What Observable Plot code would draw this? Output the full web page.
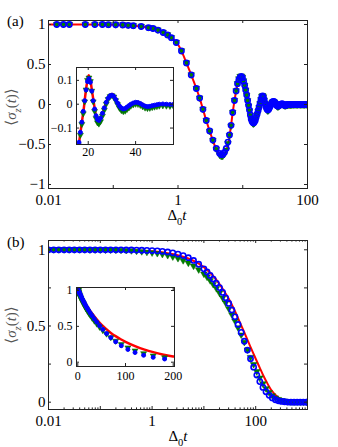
<!DOCTYPE html>
<html><head><meta charset="utf-8">
<script src="https://cdn.jsdelivr.net/npm/d3@7"></script>
<script src="https://cdn.jsdelivr.net/npm/@observablehq/plot@0.6"></script>
<style>
body{margin:0;background:#fff;}
#wrap{position:relative;width:338px;height:447px;overflow:hidden;background:#fff;}
#wrap svg{position:absolute;overflow:visible;}
</style></head><body><div id="wrap"></div>
<script>
// ---------- Panel (a) data ----------
const aLineT = [0.01,0.03,0.1,0.2,0.3,0.4,0.5,0.6,0.7,0.8,
  0.9,1.0,1.13,1.35,1.6,1.92,2.16,2.43,2.73,3.08,
  3.46,3.9,4.39,4.7,5.0,5.5,6.0,6.5,7.0,7.5,
  8.0,8.5,9.0,9.5,10,10.5,11,11.5,12,12.5,
  13,13.5,14,14.7,15.3,16,16.7,17.4,18.1,18.8,
  19.5,20.2,20.9,21.6,22.3,23,23.7,24.4,25.5,26.5,
  28,29,30.1,31,32.2,33.5,35,36.5,38,40.7,
  42.5,44.9,47,49,52,56,60,70,80,100];
const aRedV = [1,1,0.997,0.985,0.97,0.95,0.93,0.9,0.87,0.835,
  0.795,0.75,0.67,0.52,0.37,0.2,0.08,-0.06,-0.2,-0.33,
  -0.45,-0.56,-0.63,-0.65,-0.645,-0.59,-0.48,-0.3,-0.1,0.06,
  0.19,0.29,0.35,0.36,0.33,0.27,0.2,0.12,0.03,-0.06,
  -0.14,-0.2,-0.23,-0.235,-0.215,-0.17,-0.12,-0.07,-0.02,0.04,
  0.09,0.122,0.1,0.055,0.01,-0.035,-0.062,-0.072,-0.058,-0.028,
  0.02,0.037,0.043,0.035,0.01,-0.01,-0.021,-0.014,-0.002,0.009,
  0.003,-0.01,-0.008,-0.004,-0.002,0,0.001,0,0,0];
const aMarkT = [0.0134,0.017,0.021,0.037,0.052,0.068,0.084,0.109,0.14,0.17,
  0.204,0.27,0.35,0.41,0.49,0.59,0.69,0.79,0.94,1.13,
  1.35,1.6,1.92,2.16,2.43,2.73,3.08,3.46,3.9,4.39,
  4.65,4.9,5.2,5.56,5.9,6.24,6.6,7.0,7.45,7.9,
  8.3,8.7,9.1,9.5,9.9,10.3,10.7,11.1,11.5,11.9,
  12.3,12.7,13.1,13.5,13.9,14.3,14.7,15.1,15.6,16.1,
  16.7,17.3,17.9,18.5,19.1,19.7,20.3,20.9,21.5,22.1,
  22.7,23.3,23.9,24.5,25.2,26,26.8,27.6,28.4,29.2,
  30,30.8,31.6,32.4,33.2,34,34.8,35.6,36.4,37.2,
  38,39,40,41,42,43,44,45,46,47,
  48,49,50,51.5,53,54.5,56,58,61,64,
  67,70,74,78,82,86,90,95,100];
const aBlueV = [1,1,1,1,1,1,0.998,0.997,0.995,0.99,
  0.985,0.975,0.96,0.95,0.93,0.9,0.87,0.835,0.775,0.67,
  0.52,0.37,0.2,0.08,-0.06,-0.2,-0.33,-0.445,-0.55,-0.61,
  -0.625,-0.625,-0.6,-0.55,-0.47,-0.38,-0.26,-0.1,0.05,0.17,
  0.26,0.31,0.34,0.35,0.335,0.29,0.24,0.18,0.12,0.05,
  -0.01,-0.07,-0.13,-0.18,-0.21,-0.225,-0.23,-0.22,-0.2,-0.16,
  -0.118,-0.075,-0.03,0.015,0.06,0.095,0.107,0.092,0.055,0.015,
  -0.02,-0.048,-0.064,-0.068,-0.058,-0.038,-0.015,0.008,0.025,0.035,
  0.038,0.033,0.02,0.005,-0.008,-0.016,-0.02,-0.018,-0.012,-0.006,
  0,0.005,0.008,0.007,0.003,-0.003,-0.008,-0.01,-0.009,-0.006,
  -0.004,-0.002,0,0.001,0,-0.001,-0.001,0,0,0,
  0,0,0,0,0,0,0,0,0];
const aGreenV = [1,1,1,1,1,1,0.998,0.997,0.995,0.99,
  0.985,0.975,0.96,0.95,0.93,0.9,0.87,0.835,0.775,0.67,
  0.52,0.37,0.2,0.08,-0.06,-0.2,-0.335,-0.45,-0.56,-0.635,
  -0.65,-0.65,-0.625,-0.57,-0.49,-0.39,-0.27,-0.1,0.05,0.17,
  0.26,0.32,0.35,0.355,0.34,0.295,0.24,0.18,0.115,0.045,
  -0.02,-0.08,-0.14,-0.19,-0.225,-0.24,-0.245,-0.235,-0.215,-0.175,
  -0.13,-0.085,-0.04,0.01,0.06,0.1,0.11,0.095,0.055,0.01,
  -0.03,-0.06,-0.078,-0.083,-0.073,-0.05,-0.025,0,0.02,0.032,
  0.036,0.03,0.015,-0.002,-0.017,-0.027,-0.031,-0.029,-0.022,-0.015,
  -0.008,-0.003,0,-0.001,-0.005,-0.011,-0.016,-0.018,-0.017,-0.014,
  -0.012,-0.01,-0.008,-0.007,-0.008,-0.009,-0.009,-0.008,-0.008,-0.008,
  -0.008,-0.008,-0.008,-0.008,-0.008,-0.008,-0.008,-0.008,-0.008];

// ---------- Panel (b) data ----------
const bLineT = [0.01,0.1,0.5,1,2,3,5,7,10,15,
  20,25,30,40,50,60,70,80,90,100,
  120,140,160,180,200,250,300,400,600,1000];
const bRedV = [1,0.999,0.996,0.99,0.978,0.966,0.943,0.92,0.885,0.83,
  0.775,0.725,0.68,0.595,0.52,0.46,0.405,0.36,0.32,0.285,
  0.225,0.175,0.137,0.105,0.08,0.042,0.022,0.006,0.001,0];
const bMarkT = [0.01,0.0126,0.0158,0.02,0.0251,0.0316,0.0398,0.0501,0.0631,0.0794,
  0.1,0.126,0.158,0.2,0.251,0.316,0.398,0.501,0.631,0.794,
  1,1.26,1.58,2,2.51,3.16,3.98,5.01,6.31,7.94,
  10,11.5,13.2,15.1,17.4,20,23,26.3,30.2,34.7,
  39.8,45.7,52.5,60.3,69.2,79.4,91.2,105,120,138,
  158,182,209,240,275,316,363,417,479,550,
  631,724,832,955,1000];
const bBlueV = [1,1,1,1,1,1,1,1,1,1,
  1,1,1,1,1,0.999,0.999,0.998,0.997,0.996,
  0.995,0.993,0.99,0.986,0.98,0.972,0.962,0.948,0.93,0.905,
  0.875,0.855,0.832,0.808,0.78,0.752,0.72,0.685,0.648,0.605,
  0.56,0.51,0.458,0.4,0.342,0.285,0.23,0.178,0.135,0.097,
  0.068,0.045,0.028,0.016,0.009,0.005,0.003,0.001,0,0,
  0,0,0,0,0];
const bGreenV = [1,1,1,1,1,1,1,1,0.999,0.999,
  0.999,0.998,0.998,0.997,0.996,0.995,0.993,0.99,0.987,0.983,
  0.979,0.975,0.969,0.962,0.953,0.942,0.928,0.912,0.892,0.868,
  0.84,0.82,0.797,0.772,0.745,0.715,0.683,0.65,0.613,0.573,
  0.532,0.487,0.44,0.392,0.342,0.293,0.246,0.2,0.158,0.12,
  0.088,0.062,0.042,0.027,0.017,0.01,0.006,0.003,0.001,0,
  0,0,0,0,0];

// ---------- Tick values / labels ----------
const aXTicks = [0.01,0.1,1,10,100];
const aXLabels = ["0.01","1","100"];
const aXLabelVals = [0.01,1,100];
const aYTicks = [-1,-0.5,0,0.5,1];
const aYLabels = ["\u22121","\u22120.5","0","0.5","1"];
const aInXTicks = [20,40];
const aInXLabels = ["20","40"];
const aInYTicks = [-0.1,0,0.1];
const aInYLabels = ["\u22120.1","0","0.1"];

const bXTicks = [0.01,0.1,1,10,100,1000];
const bXMinor = [0.02,0.03,0.04,0.05,0.06,0.07,0.08,0.09,0.2,0.3,0.4,0.5,0.6,0.7,0.8,0.9,
  2,3,4,5,6,7,8,9,20,30,40,50,60,70,80,90,200,300,400,500,600,700,800,900];
const bXLabels = ["0.01","1","100"];
const bXLabelVals = [0.01,1,100];
const bYTicks = [0,0.25,0.5,0.75,1];
const bYLabelVals = [0,0.5,1];
const bYLabels = ["0","0.5","1"];
const bInXTicks = [0,100,200];
const bInXLabels = ["0","100","200"];
const bInYTicks = [0,0.5,1];
const bInYLabels = ["0","0.5","1"];

// ---------- drawing ----------
const FONT = '"Liberation Serif","Times New Roman","DejaVu Serif",serif';
const RED = "#ff0000", GREEN = "#008000", BLUE = "#0000ff", AX = "#222";
const triDown = {
  draw(ctx, size) {
    const r = Math.sqrt(size / Math.PI);
    ctx.moveTo(0, r * 1.05);
    ctx.lineTo(-r * 1.0, -r * 0.65);
    ctx.lineTo(r * 1.0, -r * 0.65);
    ctx.closePath();
  }
};

function panel(c) {
  const innerW = c.width - c.ml - c.mr;
  const innerH = c.height - c.mt - c.mb;
  const [x0, x1] = c.xDomain, [y0, y1] = c.yDomain;
  const lineData = c.lineT.map((t, i) => ({t, v: c.lineV[i]}));
  const markData = c.markT.map((t, i) => ({t, b: c.blueV[i], g: c.greenV[i]}))
    .filter(d => d.t >= x0 && d.t <= x1);
  const marks = [];
  if (c.inset) marks.push(Plot.frame({fill: "white", stroke: "none"}));
  marks.push(Plot.line(lineData, {x: "t", y: "v", stroke: RED, strokeWidth: c.lineW, curve: "catmull-rom", clip: true}));
  marks.push(Plot.dot(markData.filter(d => d.g >= y0 - 0.03 && d.g <= y1 + 0.03),
    {x: "t", y: "g", symbol: triDown, r: c.gR, fill: GREEN, stroke: "#006400", strokeWidth: 0.5, clip: true}));
  marks.push(Plot.dot(markData.filter(d => d.b >= y0 - 0.03 && d.b <= y1 + 0.03),
    {x: "t", y: "b", r: c.bR, fill: c.bFill, stroke: BLUE, strokeWidth: c.bSW, clip: true}));
  const tl = c.tl, ml2 = c.tlMinor;
  marks.push(Plot.tickX(c.xTicks, {x: d => d, insetTop: innerH - tl, stroke: AX}));
  marks.push(Plot.tickX(c.xTicks, {x: d => d, insetBottom: innerH - tl, stroke: AX}));
  if (c.xMinor) {
    marks.push(Plot.tickX(c.xMinor, {x: d => d, insetTop: innerH - ml2, stroke: AX}));
    marks.push(Plot.tickX(c.xMinor, {x: d => d, insetBottom: innerH - ml2, stroke: AX}));
  }
  marks.push(Plot.tickY(c.yTicks, {y: d => d, insetRight: innerW - tl, stroke: AX}));
  marks.push(Plot.tickY(c.yTicks, {y: d => d, insetLeft: innerW - tl, stroke: AX}));
  marks.push(Plot.axisX({ticks: c.xLabVals, tickFormat: d => c.xLab[c.xLabVals.indexOf(d)],
    tickSize: 0, tickPadding: c.xPad, label: null, fill: "#000"}));
  marks.push(Plot.axisY({ticks: c.yLabVals, tickFormat: d => c.yLab[c.yLabVals.indexOf(d)],
    tickSize: 0, tickPadding: c.yPad, label: null, fill: "#000"}));
  marks.push(Plot.frame({stroke: AX, strokeWidth: 1}));
  const svg = Plot.plot({
    width: c.width, height: c.height,
    marginTop: c.mt, marginRight: c.mr, marginBottom: c.mb, marginLeft: c.ml,
    x: {type: c.xType, domain: c.xDomain},
    y: {type: "linear", domain: c.yDomain},
    style: {fontFamily: FONT, fontSize: c.fs + "px", background: "transparent", overflow: "visible", color: "#000"},
    marks
  });
  svg.style.left = c.left + "px";
  svg.style.top = c.top + "px";
  document.getElementById("wrap").appendChild(svg);
  return svg;
}

function richText(svg, {x, y, rotate, parts, size, fill, anchor}) {
  const t = d3.select(svg).append("text")
    .attr("transform", `translate(${x},${y})` + (rotate ? ` rotate(${rotate})` : ""))
    .attr("text-anchor", anchor || "middle")
    .attr("font-family", FONT).attr("font-size", size).attr("fill", fill || "#000");
  let shift = 0;
  for (const [s, st] of parts) {
    const sp = t.append("tspan").text(s);
    if (st && st.includes("i")) sp.attr("font-style", "italic");
    if (st && st.includes("sub")) {
      sp.attr("font-size", size * 0.7).attr("dy", (0.3 * size - shift) + "px");
      shift = 0.3 * size;
    } else if (shift) {
      sp.attr("dy", (-shift) + "px");
      shift = 0;
    }
  }
}

// Panel (a)
const svgA = panel({left: 0, top: 0, width: 338, height: 222, mt: 20, mr: 31, mb: 34, ml: 48,
  xType: "log", xDomain: [0.01, 100], yDomain: [-1.05, 1.05],
  lineT: aLineT, lineV: aRedV, markT: aMarkT, blueV: aBlueV, greenV: aGreenV,
  xTicks: aXTicks, xLabVals: aXLabelVals, xLab: aXLabels,
  yTicks: aYTicks, yLabVals: aYTicks, yLab: aYLabels,
  tl: 3, fs: 15, xPad: 6, yPad: 3, lineW: 2, gR: 3.3, bR: 2.6, bSW: 1.6, bFill: "none"});
// Inset (a)
panel({left: 46, top: 66, width: 129, height: 96, mt: 1, mr: 2, mb: 18, ml: 30, inset: true,
  xType: "linear", xDomain: [15.05, 56], yDomain: [-0.169, 0.154],
  lineT: aLineT, lineV: aRedV, markT: aMarkT, blueV: aBlueV, greenV: aGreenV,
  xTicks: aInXTicks, xLabVals: aInXTicks, xLab: aInXLabels,
  yTicks: aInYTicks, yLabVals: aInYTicks, yLab: aInYLabels,
  tl: 3, fs: 12, xPad: 3, yPad: 4, lineW: 2.5, gR: 3, bR: 2, bSW: 1, bFill: BLUE});

// Panel (b)
const svgB = panel({left: 0, top: 222, width: 338, height: 225, mt: 18, mr: 31, mb: 38, ml: 48,
  xType: "log", xDomain: [0.01, 1000], yDomain: [-0.048, 1.061],
  lineT: bLineT, lineV: bRedV, markT: bMarkT, blueV: bBlueV, greenV: bGreenV,
  xTicks: bXTicks, xMinor: bXMinor, xLabVals: bXLabelVals, xLab: bXLabels,
  yTicks: bYTicks, yLabVals: bYLabelVals, yLab: bYLabels,
  tl: 3, tlMinor: 1.6, fs: 15, xPad: 6, yPad: 3, lineW: 2, gR: 3.3, bR: 2.6, bSW: 1.6, bFill: "none"});
// Inset (b)
panel({left: 46, top: 286, width: 130, height: 100, mt: 1, mr: 2, mb: 20, ml: 30, inset: true,
  xType: "linear", xDomain: [-2.7, 202.7], yDomain: [-0.06, 1.042],
  lineT: bLineT, lineV: bRedV, markT: bMarkT, blueV: bBlueV, greenV: bGreenV,
  xTicks: bInXTicks, xLabVals: bInXTicks, xLab: bInXLabels,
  yTicks: bInYTicks, yLabVals: bInYTicks, yLab: bInYLabels,
  tl: 3, fs: 12, xPad: 5, yPad: 4, lineW: 2.5, gR: 3, bR: 2, bSW: 1, bFill: BLUE});

// Labels
const xLabParts = [["\u0394", ""], ["0", "sub"], ["t", "i"]];
const yLabParts = [["\u27E8", ""], ["\u03C3", "i"], ["z", "sub i"], ["(", ""], ["t", "i"], [")", ""], ["\u27E9", ""]];
richText(svgA, {x: 177, y: 220, parts: xLabParts, size: 15});
richText(svgB, {x: 178, y: 219, parts: xLabParts, size: 15});
richText(svgA, {x: 16, y: 107, rotate: -90, parts: yLabParts, size: 15, fill: "#555"});
richText(svgB, {x: 16, y: 103, rotate: -90, parts: yLabParts, size: 15, fill: "#555"});
richText(svgA, {x: 7, y: 26, parts: [["(a)", ""]], size: 15, anchor: "start"});
richText(svgB, {x: 7, y: 25, parts: [["(b)", ""]], size: 15, anchor: "start"});
</script></body></html>
